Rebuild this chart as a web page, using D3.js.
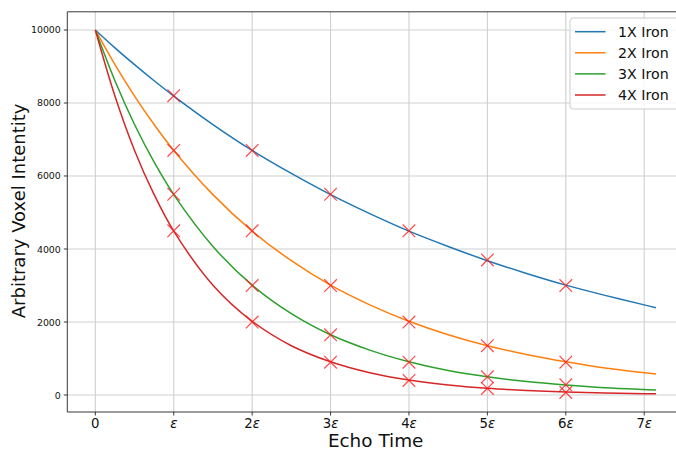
<!DOCTYPE html>
<html>
<head>
<meta charset="utf-8">
<script src="https://cdn.jsdelivr.net/npm/d3@7"></script>
<style>
  html, body { margin: 0; padding: 0; background: #fff; }
  svg { display: block; font-family: "DejaVu Sans", sans-serif; }
</style>
</head>
<body>
<div id="chart"></div>
<script>
(function () {
  "use strict";

  // echo times (in units of epsilon) where the fitted curves were read
  const CURVE_T = [0, 0.25, 0.5, 0.75, 1, 1.5, 2, 2.5, 3, 3.5, 4, 4.5, 5, 5.5, 6, 6.5, 7, 7.15];
  const IRON_1X = [10000, 9510, 9050, 8610, 8190, 7410, 6700, 6070, 5490, 4970, 4490, 4070, 3680, 3330, 3010, 2730, 2470, 2390];
  const IRON_2X = [10000, 9050, 8190, 7410, 6700, 5490, 4490, 3680, 3010, 2470, 2020, 1650, 1350, 1110, 910, 740, 610, 575];
  const IRON_3X = [10000, 8610, 7410, 6380, 5490, 4070, 3010, 2230, 1650, 1230, 910, 670, 500, 370, 275, 200, 150, 137];
  const IRON_4X = [10000, 8190, 6700, 5490, 4490, 3010, 2020, 1350, 910, 610, 410, 275, 185, 125, 82, 55, 37, 33];

  // measured samples (red crosses)
  const SAMPLE_T = [1, 2, 3, 4, 5, 6];
  const SAMPLES_1X = [8200, 6700, 5500, 4500, 3700, 3000];
  const SAMPLES_2X = [6700, 4500, 3000, 2000, 1350, 900];
  const SAMPLES_3X = [5500, 3000, 1650, 900, 500, 280];
  const SAMPLES_4X = [4500, 2000, 900, 400, 180, 70];

  const SERIES_NAMES = ["1X Iron", "2X Iron", "3X Iron", "4X Iron"];
  const SERIES_COLORS = ["#1f77b4", "#ff7f0e", "#2ca02c", "#d62728"];
  const X_TICKS = [0, 1, 2, 3, 4, 5, 6, 7];
  const Y_TICKS = [0, 2000, 4000, 6000, 8000, 10000];

  const curves = [IRON_1X, IRON_2X, IRON_3X, IRON_4X];
  const samples = [SAMPLES_1X, SAMPLES_2X, SAMPLES_3X, SAMPLES_4X];

  const width = 676;
  const height = 451;
  const plotLeft = 67.3;
  const plotRight = 684;
  const plotTop = 11.8;
  const plotBottom = 412;

  const svg = d3.select("#chart").append("svg")
    .attr("width", width)
    .attr("height", height);

  const x = d3.scaleLinear().domain([-0.3575, 7.5075]).range([plotLeft, plotRight]);
  const y = d3.scaleLinear().domain([-465, 10498]).range([plotBottom, plotTop]);

  // grid
  const grid = svg.append("g");
  grid.selectAll(".gx").data(X_TICKS).join("line")
    .attr("x1", (d) => x(d)).attr("x2", (d) => x(d))
    .attr("y1", plotTop).attr("y2", plotBottom)
    .attr("stroke", "#cfcfcf").attr("stroke-width", 1.1);
  grid.selectAll(".gy").data(Y_TICKS).join("line")
    .attr("x1", plotLeft).attr("x2", plotRight)
    .attr("y1", (d) => y(d)).attr("y2", (d) => y(d))
    .attr("stroke", "#cfcfcf").attr("stroke-width", 1.1);

  // fitted curves
  const line = d3.line()
    .x((d) => x(d[0]))
    .y((d) => y(d[1]))
    .curve(d3.curveCatmullRom.alpha(0.5));
  svg.append("g").selectAll("path")
    .data(curves)
    .join("path")
    .attr("d", (vals) => line(vals.map((v, i) => [CURVE_T[i], v])))
    .attr("fill", "none")
    .attr("stroke", (_, i) => SERIES_COLORS[i])
    .attr("stroke-width", 1.5);

  // sample crosses
  const pts = [];
  samples.forEach((vals) => vals.forEach((v, i) => pts.push([SAMPLE_T[i], v])));
  const m = 6.3;
  svg.append("g").selectAll("path")
    .data(pts)
    .join("path")
    .attr("d", (d) => {
      const cx = x(d[0]), cy = y(d[1]);
      return `M${cx - m},${cy - m}L${cx + m},${cy + m}M${cx - m},${cy + m}L${cx + m},${cy - m}`;
    })
    .attr("stroke", "#ff1a1a")
    .attr("stroke-opacity", 0.8)
    .attr("stroke-width", 1.2);

  // spines (right one falls outside the picture)
  svg.append("path")
    .attr("d", `M${plotLeft},${plotTop}H${plotRight}M${plotLeft},${plotTop}V${plotBottom}H${plotRight}`)
    .attr("fill", "none")
    .attr("stroke", "#222")
    .attr("stroke-width", 0.9);

  // y axis ticks
  const yAxis = svg.append("g");
  yAxis.selectAll("line").data(Y_TICKS).join("line")
    .attr("x1", plotLeft - 3.5).attr("x2", plotLeft)
    .attr("y1", (d) => y(d)).attr("y2", (d) => y(d))
    .attr("stroke", "#222").attr("stroke-width", 0.9);
  yAxis.selectAll("text").data(Y_TICKS).join("text")
    .attr("x", plotLeft - 6.5)
    .attr("y", (d) => y(d))
    .attr("text-anchor", "end")
    .attr("dominant-baseline", "central")
    .attr("font-size", 9.4)
    .attr("fill", "#111")
    .text((d) => d);

  // x axis ticks with epsilon labels
  const xAxis = svg.append("g");
  xAxis.selectAll("line").data(X_TICKS).join("line")
    .attr("x1", (d) => x(d)).attr("x2", (d) => x(d))
    .attr("y1", plotBottom).attr("y2", plotBottom + 3.5)
    .attr("stroke", "#222").attr("stroke-width", 0.9);
  xAxis.selectAll("text").data(X_TICKS).join("text")
    .attr("x", (d) => x(d))
    .attr("y", 427.7)
    .attr("text-anchor", "middle")
    .attr("font-size", 13.3)
    .attr("fill", "#111")
    .each(function (d) {
      const t = d3.select(this);
      if (d === 0) { t.text("0"); return; }
      if (d > 1) t.append("tspan").text(d);
      t.append("tspan").attr("font-style", "italic").text("ε");
    });

  // axis titles
  svg.append("text")
    .attr("x", (plotLeft + plotRight) / 2)
    .attr("y", 447)
    .attr("text-anchor", "middle")
    .attr("font-size", 18.4)
    .attr("fill", "#111")
    .text("Echo Time");
  svg.append("text")
    .attr("transform", `translate(25,${(plotTop + plotBottom) / 2 - 1}) rotate(-90)`)
    .attr("text-anchor", "middle")
    .attr("font-size", 18)
    .attr("fill", "#111")
    .text("Arbitrary Voxel Intentity");

  // legend
  const legend = svg.append("g").attr("transform", "translate(570,18)");
  legend.append("rect")
    .attr("width", 120).attr("height", 91)
    .attr("rx", 3)
    .attr("fill", "#fff").attr("fill-opacity", 0.8)
    .attr("stroke", "#cccccc").attr("stroke-width", 1);
  const rows = legend.selectAll(".row").data(SERIES_NAMES).join("g")
    .attr("transform", (_, i) => `translate(0,${13.7 + i * 21.1})`);
  rows.append("line")
    .attr("x1", 5).attr("x2", 35.5)
    .attr("stroke", (_, i) => SERIES_COLORS[i])
    .attr("stroke-width", 1.5);
  rows.append("text")
    .attr("x", 48)
    .attr("dominant-baseline", "central")
    .attr("font-size", 14.2)
    .attr("fill", "#111")
    .text((d) => d);
})();
</script>
</body>
</html>
